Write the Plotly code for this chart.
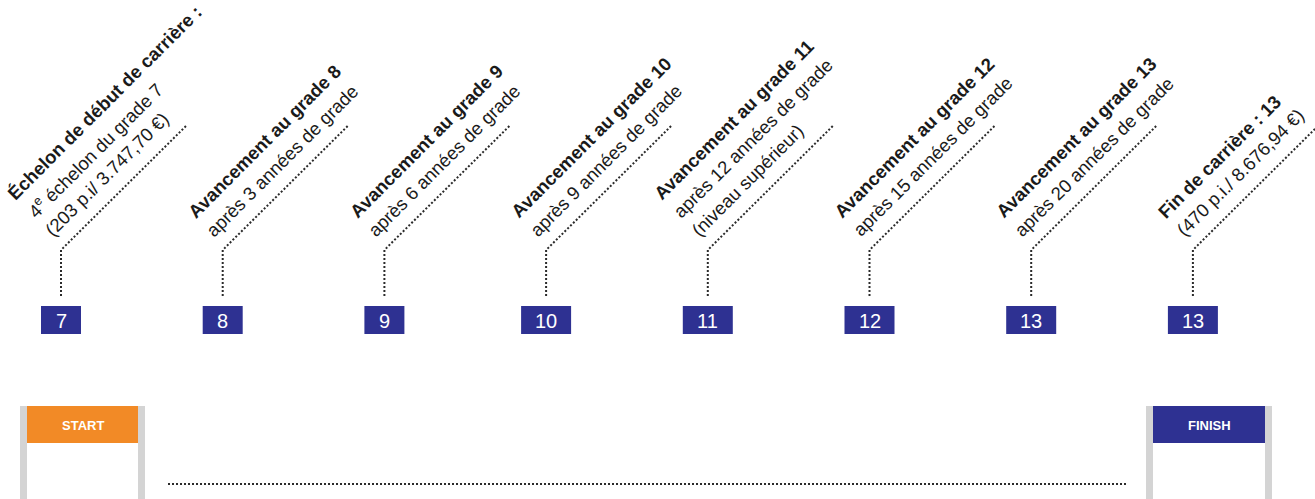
import plotly.graph_objects as go

# ---------------- data ----------------
grades = ["7", "8", "9", "10", "11", "12", "13", "13"]
titles = [
    "Échelon de début de carrière :",
    "Avancement au grade 8",
    "Avancement au grade 9",
    "Avancement au grade 10",
    "Avancement au grade 11",
    "Avancement au grade 12",
    "Avancement au grade 13",
    "Fin de carrière : 13",
]
details = [
    ["4<sup>e</sup> échelon du grade 7", "(203 p.i/ 3.747,70 €)"],
    ["après 3 années de grade"],
    ["après 6 années de grade"],
    ["après 9 années de grade"],
    ["après 12 années de grade", "(niveau supérieur)"],
    ["après 15 années de grade"],
    ["après 20 années de grade"],
    ["(470 p.i./ 8.676,94 €)"],
]
start_label = "START"
finish_label = "FINISH"

# ---------------- layout constants ----------------
W, H = 1315, 499
X0, STEP = 61, 161.7
BOX_TOP, BOX_BOT = 306, 334
STEM_BOT, KINK_Y, DIAG = 296, 250, 126
NAVY = "#2e3192"
ORANGE = "#f28a26"
GREY = "#d4d4d4"
DOT = "#2b2b2b"
FONT = "Liberation Sans"
FS = 18.5
FS_BOLD = 18.5
S = 26          # perpendicular line spacing
C = 0.70711
LINE_H = 23     # approx box height of a single line annotation
D, P = 5, 1     # baseline->box bottom, left pad

fig = go.Figure()
shapes = []
annotations = []

# connectors
cx_list = [X0 + i * STEP for i in range(len(grades))]
lx, ly = [], []
for cx in cx_list:
    lx += [cx, cx, cx + DIAG, None]
    ly += [STEM_BOT, KINK_Y, KINK_Y - DIAG + 1, None]
fig.add_trace(go.Scatter(x=lx, y=ly, mode="lines",
                         line=dict(color=DOT, width=2, dash="2px,2px"),
                         hoverinfo="skip", showlegend=False))

# bottom dotted track
fig.add_trace(go.Scatter(x=[168, 1128], y=[484, 484], mode="lines",
                         line=dict(color=DOT, width=2, dash="2px,2px"),
                         hoverinfo="skip", showlegend=False))

for i, (g, t, det) in enumerate(zip(grades, titles, details)):
    cx = cx_list[i]
    bw = 40 if len(g) == 1 else 50
    shapes.append(dict(type="rect", xref="x", yref="y",
                       x0=cx - bw / 2, x1=cx + bw / 2, y0=BOX_TOP, y1=BOX_BOT,
                       fillcolor=NAVY, line=dict(width=0), layer="above"))
    annotations.append(dict(x=cx, y=(BOX_TOP + BOX_BOT) / 2 + 1, xref="x", yref="y",
                            text=g, showarrow=False,
                            font=dict(family=FONT, size=20, color="white")))
    lines = ["<b>" + t + "</b>"] + det
    n = len(lines)
    for j, ln in enumerate(lines):
        k = n - 1 - j
        bx = cx - 10 - k * S * C
        by = 239 - k * S * C
        blx = bx + (D - P) * C
        bly = by + (D + P) * C
        annotations.append(dict(x=(blx - C * LINE_H) / W, y=1 - bly / H,
                                xref="paper", yref="paper",
                                text=ln, showarrow=False, textangle=-45,
                                xanchor="left", yanchor="bottom",
                                font=dict(family=FONT, size=FS_BOLD if j == 0 else FS,
                                          color="#1a1a1a")))

# gates
def gate(x_left, x_right, color, label):
    post = 7
    shapes.append(dict(type="rect", x0=x_left, x1=x_left + post, y0=406, y1=505,
                       fillcolor=GREY, line=dict(width=0)))
    shapes.append(dict(type="rect", x0=x_right - post, x1=x_right, y0=406, y1=505,
                       fillcolor=GREY, line=dict(width=0)))
    shapes.append(dict(type="rect", x0=x_left + post, x1=x_right - post, y0=406, y1=443,
                       fillcolor=color, line=dict(width=0)))
    annotations.append(dict(x=(x_left + x_right) / 2, y=425, text="<b>" + label + "</b>",
                            showarrow=False,
                            font=dict(family=FONT, size=13, color="white")))

gate(20, 145, ORANGE, start_label)
gate(1146, 1272, NAVY, finish_label)

fig.update_layout(
    width=W, height=H, margin=dict(l=0, r=0, t=0, b=0),
    paper_bgcolor="white", plot_bgcolor="white",
    xaxis=dict(range=[0, W], visible=False, fixedrange=True),
    yaxis=dict(range=[H, 0], visible=False, fixedrange=True),
    shapes=shapes, annotations=annotations, showlegend=False,
)

fig.write_html("out.html", config={"displayModeBar": False},
               post_script="document.body.style.margin='0';")
